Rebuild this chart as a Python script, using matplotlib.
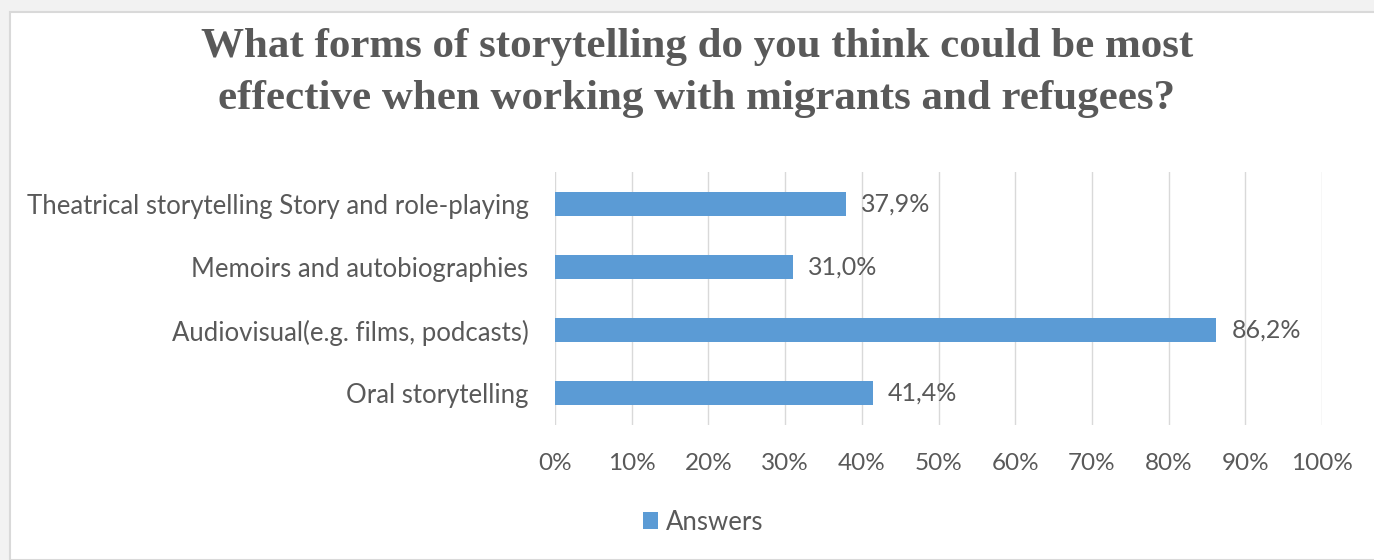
import matplotlib.pyplot as plt
from matplotlib.patches import Rectangle

categories = ["Oral storytelling", "Audiovisual(e.g. films, podcasts)",
              "Memoirs and autobiographies",
              "Theatrical storytelling Story and role-playing"]
answers = [41.4, 86.2, 31.0, 37.9]
xticks = [0, 10, 20, 30, 40, 50, 60, 70, 80, 90, 100]

bar_color = "#5b9bd5"
text_color = "#595959"

fig = plt.figure(figsize=(13.74, 5.6), dpi=100)
fig.patch.set_facecolor("#f2f2f2")
fig.patches.append(Rectangle((10 / 1374, 0), 1.0, 1 - 12 / 560, transform=fig.transFigure,
                             facecolor="white", edgecolor="#d9d9d9", lw=1.5, zorder=-5))

ax = fig.add_axes([555 / 1374, 1 - 425 / 560, (1322 - 555) / 1374, 253 / 560])
ax.set_facecolor("white")
ax.barh(range(len(categories)), answers, height=0.38, color=bar_color, label="Answers", zorder=3)
for i, v in enumerate(answers):
    ax.text(v + 2.0, i, f"{v:.1f}%".replace(".", ","), va="center", ha="left",
            fontsize=18, color=text_color, family="Lato")

ax.set_xlim(0, 100)
ax.set_ylim(-0.5, len(categories) - 0.5)
ax.set_xticks(xticks)
ax.set_xticklabels([f"{t}%" for t in xticks], fontsize=17.5, color=text_color, family="Lato")
ax.set_yticks(range(len(categories)))
ax.set_yticklabels(categories, fontsize=18.5, color=text_color, family="Lato")
ax.tick_params(length=0, pad=20, axis="x")
ax.tick_params(length=0, pad=19, axis="y")
ax.grid(axis="x", color="#d9d9d9", lw=1, zorder=0)
for s in ax.spines.values():
    s.set_visible(False)

fig.text(697 / 1374, 1 - 73 / 560,
         "What forms of storytelling do you think could be most\neffective when working with migrants and refugees?",
         ha="center", va="center", fontsize=31, fontweight="bold", color=text_color,
         family="Liberation Serif", linespacing=1.45)

leg = fig.legend(loc="center", bbox_to_anchor=(703 / 1374, 1 - 522 / 560), frameon=False,
                 prop={"family": "Lato", "size": 18.5}, handlelength=0.6, handleheight=0.6,
                 handletextpad=0.3)
for t in leg.get_texts():
    t.set_color(text_color)

fig.savefig("out.png", dpi=100, facecolor=fig.get_facecolor())
